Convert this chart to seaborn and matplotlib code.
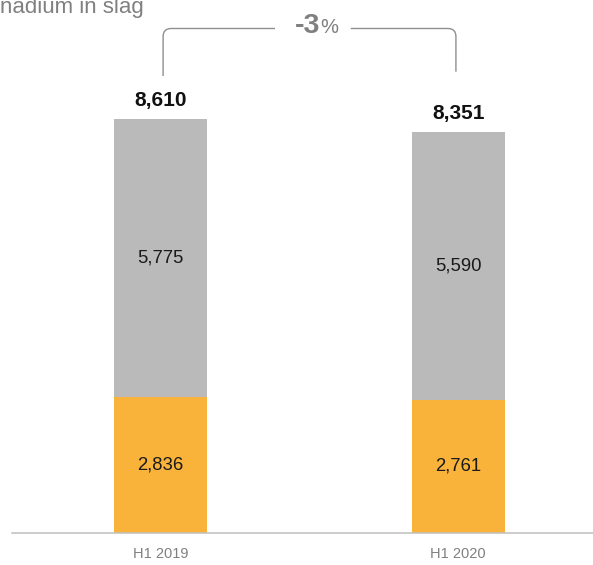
import matplotlib
matplotlib.use("Agg")
import matplotlib.pyplot as plt
from matplotlib.path import Path
from matplotlib.patches import PathPatch
import seaborn as sns
import pandas as pd

# ---- data ----
categories = ["H1 2019", "H1 2020"]
bottom_vals = [2836, 2761]      # orange segment
top_vals = [5775, 5590]         # gray segment
total_labels = ["8,610", "8,351"]
bottom_labels = ["2,836", "2,761"]
top_labels = ["5,775", "5,590"]
change_num = "-3"
change_unit = "%"
title_text = "nadium in slag"

totals = [b + t for b, t in zip(bottom_vals, top_vals)]
df = pd.DataFrame({"cat": categories, "bottom": bottom_vals, "top": top_vals, "total": totals})

sns.set_theme(style="white")
plt.rcParams["font.family"] = ["Liberation Sans", "DejaVu Sans"]

W, H = 593, 565
fig = plt.figure(figsize=(W / 100, H / 100), dpi=100)
ax = fig.add_axes([12 / W, (H - 532.7) / H, (W - 12) / W, 532.7 / H])

ORANGE = "#F9B33B"
GRAY = "#BABABA"
BAR_W = 0.3135

sns.barplot(data=df, x="cat", y="total", color=GRAY, width=BAR_W, ax=ax,
            saturation=1, edgecolor="none", linewidth=0)
sns.barplot(data=df, x="cat", y="bottom", color=ORANGE, width=BAR_W, ax=ax,
            saturation=1, edgecolor="none", linewidth=0)

ax.set_xlim(-0.4997, 1.4526)
ax.set_ylim(0, 11096)
ax.set_xlabel("")
ax.set_ylabel("")
ax.set_yticks([])
for s in ["top", "left", "right"]:
    ax.spines[s].set_visible(False)
ax.spines["bottom"].set_color("#BFBFBF")
ax.spines["bottom"].set_linewidth(1.1)
ax.tick_params(axis="x", length=0, pad=10, labelsize=10.5, labelcolor="#808080")

# segment labels
for i in range(len(categories)):
    ax.text(i, bottom_vals[i] / 2, bottom_labels[i], ha="center", va="center",
            fontsize=13.3, color="#1a1a1a")
    ax.text(i, bottom_vals[i] + top_vals[i] / 2, top_labels[i], ha="center", va="center",
            fontsize=13.3, color="#1a1a1a")
    ax.annotate(total_labels[i], xy=(i, totals[i]), xytext=(0, 9.3), textcoords="offset points",
                ha="center", va="baseline", fontsize=15, fontweight="bold", color="#111111")

# bracket
px_per_unit_x = 297.6
px_per_val = 532.7 / 11096
def ydata(ypx):
    return (532.7 - ypx) / px_per_val

xl, xr = 0.008, 0.992
ytop = ydata(28.5)
yl_bot = ydata(76)
yr_bot = ydata(71.7)
rx = 8 / px_per_unit_x
ry = 8 / px_per_val
gap_l, gap_r = (275 - 160.7) / px_per_unit_x, (350.7 - 160.7) / px_per_unit_x

verts = [(xl, yl_bot), (xl, ytop - ry), (xl, ytop), (xl + rx, ytop), (gap_l, ytop)]
codes = [Path.MOVETO, Path.LINETO, Path.CURVE3, Path.CURVE3, Path.LINETO]
verts += [(gap_r, ytop), (xr - rx, ytop), (xr, ytop), (xr, ytop - ry), (xr, yr_bot)]
codes += [Path.MOVETO, Path.LINETO, Path.CURVE3, Path.CURVE3, Path.LINETO]
ax.add_patch(PathPatch(Path(verts, codes), fill=False, edgecolor="#8F8F8F", lw=1.0,
                       clip_on=False))

xsplit = (319.8 - 160.7) / px_per_unit_x
ybase = ydata(32.7)
ax.text(xsplit, ybase, change_num, ha="right", va="baseline", fontsize=20.5,
        fontweight="bold", color="#808080")
ax.text(xsplit + 0.5 / px_per_unit_x, ybase, change_unit, ha="left", va="baseline",
        fontsize=14.5, color="#808080")

# title (cut off at the top-left like the reference)
fig.text(-0.5 / W, 1 - 13.5 / H, title_text, ha="left", va="baseline", fontsize=16,
         color="#808080")

fig.savefig("out.png", dpi=100)
